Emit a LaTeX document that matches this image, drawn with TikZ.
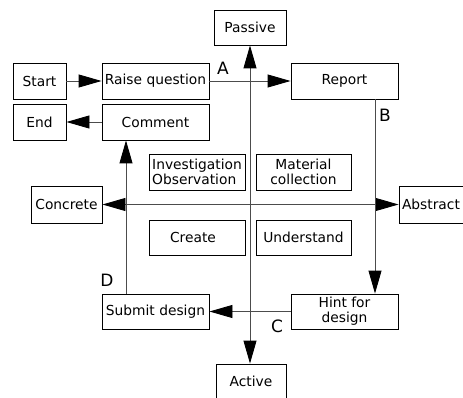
\documentclass[tikz,border=0pt]{standalone}
\usepackage{fontspec}
\setmainfont{DejaVu Sans}
\usetikzlibrary{arrows.meta}
\begin{document}
\begin{tikzpicture}[x=1pt,y=-1pt,
  box/.style={draw=black,line width=0.9pt,rectangle,inner sep=0pt,align=center,
    font=\fontsize{13.8}{15}\selectfont},
  conn/.style={draw=black!70,line width=0.9pt},
  tip/.style={-{Triangle[length=23pt,width=13pt,color=black]}},
  both/.style={{Triangle[length=23pt,width=13pt,color=black]}-{Triangle[length=23pt,width=13pt,color=black]}},
  lbl/.style={font=\fontsize{17}{18}\selectfont,inner sep=0pt}]
\path[use as bounding box] (0,0) rectangle (463,398);
\clip (0,0) rectangle (463,398);
\node[box,minimum width=53pt,minimum height=36pt] (start) at (39.5,81) {Start};
\node[box,minimum width=107pt,minimum height=36pt] (raise) at (155.5,81) {Raise question};
\node[box,minimum width=53pt,minimum height=36pt] (end) at (39.5,122) {End};
\node[box,minimum width=107pt,minimum height=36pt] (comment) at (155.5,122) {\raisebox{-3pt}{Comment}};
\node[box,minimum width=72pt,minimum height=35pt] (passive) at (250,27.5) {Passive};
\node[box,minimum width=107pt,minimum height=36pt] (report) at (344.5,81) {Report};
\node[box,minimum width=96pt,minimum height=36pt,align=left] (invest) at (197,172) {Investigation\\Observation};
\node[box,minimum width=95pt,minimum height=36pt] (material) at (303.5,172) {Material\\collection};
\node[box,minimum width=71pt,minimum height=37pt] (concrete) at (66.5,204.5) {Concrete};
\node[box,minimum width=71pt,minimum height=37pt,text width=65pt,align=left] (abstract) at (434.5,204.5) {Abstract};
\node[box,minimum width=96pt,minimum height=35pt] (create) at (197,237.5) {\hspace*{-8pt}Create};
\node[box,minimum width=95pt,minimum height=35pt] (understand) at (303.5,237.5) {Understand};
\node[box,minimum width=107pt,minimum height=35pt] (submit) at (155.5,311.5) {Submit design};
\node[box,minimum width=107pt,minimum height=35pt] (hint) at (344.5,311.5) {Hint for\\design};
\node[box,minimum width=70pt,minimum height=38pt] (active) at (251,383) {\raisebox{3pt}{Active}};
\coordinate (bx) at (375,0);
\coordinate (dx) at (126,0);
\draw[conn,tip] (start) -- (raise);
\draw[conn,tip] (comment) -- (end);
\draw[conn,tip] (raise) -- (report);
\draw[conn,both] (passive.south -| 250,0) -- (active.north -| 250,0);
\draw[conn,both] (concrete) -- (abstract);
\draw[conn,tip] (bx |- report.south) -- (bx |- hint.north);
\draw[conn,tip] (hint) -- (submit);
\draw[conn,tip] (dx |- submit.north) -- (dx |- comment.south);
\node[lbl] (la) at (223,68) {A};
\node[lbl] (lb) at (385,115) {B};
\node[lbl] (lc) at (277,326) {C};
\node[lbl] (ld) at (107,280) {D};
\end{tikzpicture}
\end{document}
